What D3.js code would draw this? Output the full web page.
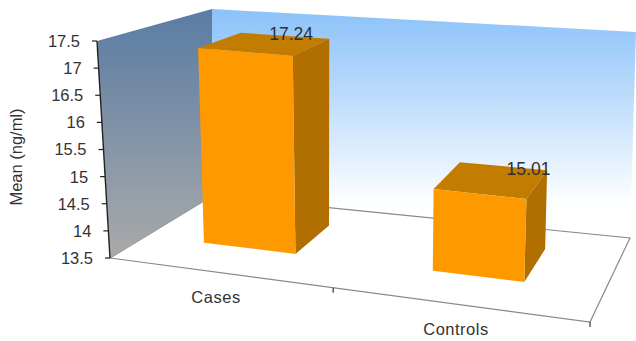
<!DOCTYPE html>
<html>
<head>
<meta charset="utf-8">
<script src="https://cdn.jsdelivr.net/npm/d3@7"></script>
<style>
html,body{margin:0;padding:0;background:#fff}
svg{display:block}
text{font-family:"Liberation Sans",Arial,sans-serif;fill:#333}
</style>
</head>
<body>
<svg id="chart" width="636" height="341"></svg>
<script>
const categories = ["Cases", "Controls"];
const means = [17.24, 15.01];
const valueTicks = [13.5, 14, 14.5, 15, 15.5, 16, 16.5, 17, 17.5];
const valueLabels = ["13.5", "14", "14.5", "15", "15.5", "16", "16.5", "17", "17.5"];
const axisTitle = "Mean (ng/ml)";

const svg = d3.select("#chart");

// Corners of the plot box on screen: front-left, front-right, back-right, back-left
const floorQuad = [[110, 258], [590, 322], [630, 238], [212, 196]];
const ceilQuad = [[97, 41], [600, 90], [636, 32], [212, 9]];

// Manual offsets for the value labels sitting on the bar tops
const labelOffsets = [[6, 6], [25, 11]];

// Bilinear map of the unit square onto a screen quadrilateral
function quadMap(q) {
  const [p0, p1, p2, p3] = q;
  return (u, w) => [0, 1].map(k => {
    const front = p0[k] + (p1[k] - p0[k]) * u;
    const back = p3[k] + (p2[k] - p3[k]) * u;
    return front + (back - front) * w;
  });
}
const floorMap = quadMap(floorQuad);
const ceilMap = quadMap(ceilQuad);

const level = d3.scaleLinear().domain([13.5, 17.5]).range([0, 1]);
const slot = d3.scaleBand().domain(categories).range([-0.025, 0.975])
  .paddingInner(0.6).paddingOuter(0.3);
const depth = { near: 0.36, far: 0.77 };

// Screen position of a point given across, depth and data value
function project(u, w, v) {
  const a = floorMap(u, w), b = ceilMap(u, w), t = level(v);
  return [a[0] + (b[0] - a[0]) * t, a[1] + (b[1] - a[1]) * t];
}
const poly = pts => "M" + pts.map(p => p.join(",")).join("L") + "Z";

const defs = svg.append("defs");
function verticalGradient(id, y1, y2, stops) {
  const g = defs.append("linearGradient").attr("id", id)
    .attr("gradientUnits", "userSpaceOnUse")
    .attr("x1", 0).attr("x2", 0).attr("y1", y1).attr("y2", y2);
  stops.forEach(([o, c]) => g.append("stop").attr("offset", o).attr("stop-color", c));
}
verticalGradient("wallBack", 10, 205, [[0, "#8cc2fa"], [0.45, "#bddcfb"], [1, "#ffffff"]]);
verticalGradient("wallSide", 20, 258, [[0, "#5d7ea4"], [1, "#aaaaaa"]]);

// Walls and floor
const vMin = valueTicks[0], vMax = valueTicks[valueTicks.length - 1];
svg.append("path")
  .attr("d", poly([project(0, 1, vMin), project(1, 1, vMin), project(1, 1, vMax), project(0, 1, vMax)]))
  .attr("fill", "url(#wallBack)");
svg.append("path")
  .attr("d", poly([project(0, 0, vMin), project(1, 0, vMin), project(1, 1, vMin), project(0, 1, vMin)]))
  .attr("fill", "#fff").attr("stroke", "#8a8a8a").attr("stroke-width", 1.2);
svg.append("path")
  .attr("d", poly([project(0, 0, vMin), project(0, 1, vMin), project(0, 1, vMax), project(0, 0, vMax)]))
  .attr("fill", "url(#wallSide)");

// Value axis along the front edge of the side wall
const axisG = svg.append("g");
axisG.append("line")
  .attr("x1", project(0, 0, vMin)[0]).attr("y1", project(0, 0, vMin)[1])
  .attr("x2", project(0, 0, vMax)[0]).attr("y2", project(0, 0, vMax)[1])
  .attr("stroke", "#222").attr("stroke-width", 1.4);
valueTicks.forEach((v, i) => {
  const p = project(0, 0, v);
  axisG.append("line")
    .attr("x1", p[0] - 5).attr("x2", p[0]).attr("y1", p[1]).attr("y2", p[1])
    .attr("stroke", "#222").attr("stroke-width", 1.2);
  axisG.append("text")
    .attr("x", p[0] - 17).attr("y", p[1]).attr("dy", "0.36em")
    .attr("text-anchor", "end").attr("font-size", 16.5).text(valueLabels[i]);
});
svg.append("text")
  .attr("transform", "translate(22,157) rotate(-90)")
  .attr("text-anchor", "middle").attr("font-size", 16.5).text(axisTitle);

// Category ticks on the front floor edge
[0.465, 1].forEach(u => {
  const p = project(u, 0, vMin);
  svg.append("line")
    .attr("x1", p[0]).attr("x2", p[0]).attr("y1", p[1]).attr("y2", p[1] + 5)
    .attr("stroke", "#333").attr("stroke-width", 1.2);
});

// Bars: far faces first so the nearer faces overlap them
categories.forEach((c, i) => {
  const u0 = slot(c), u1 = u0 + slot.bandwidth(), v = means[i];
  const g = svg.append("g");
  g.append("path")
    .attr("d", poly([project(u0, depth.near, v), project(u1, depth.near, v), project(u1, depth.far, v), project(u0, depth.far, v)]))
    .attr("fill", "#c27c00");
  g.append("path")
    .attr("d", poly([project(u1, depth.near, vMin), project(u1, depth.far, vMin), project(u1, depth.far, v), project(u1, depth.near, v)]))
    .attr("fill", "#b06f00");
  g.append("path")
    .attr("d", poly([project(u0, depth.near, vMin), project(u1, depth.near, vMin), project(u1, depth.near, v), project(u0, depth.near, v)]))
    .attr("fill", "#ff9900");

  const lp = project((u0 + u1) / 2, depth.far, v);
  g.append("text")
    .attr("x", lp[0] + labelOffsets[i][0]).attr("y", lp[1] - 2 + labelOffsets[i][1])
    .attr("text-anchor", "middle").attr("font-size", 17.5)
    .style("fill", "#2b3038").text(v.toFixed(2));

  const cp = project((u0 + u1) / 2, 0, vMin);
  svg.append("text")
    .attr("x", cp[0] - 2).attr("y", cp[1] + 31)
    .attr("text-anchor", "middle").attr("font-size", 16.5)
    .attr("letter-spacing", 0.5).text(c);
});
</script>
</body>
</html>
